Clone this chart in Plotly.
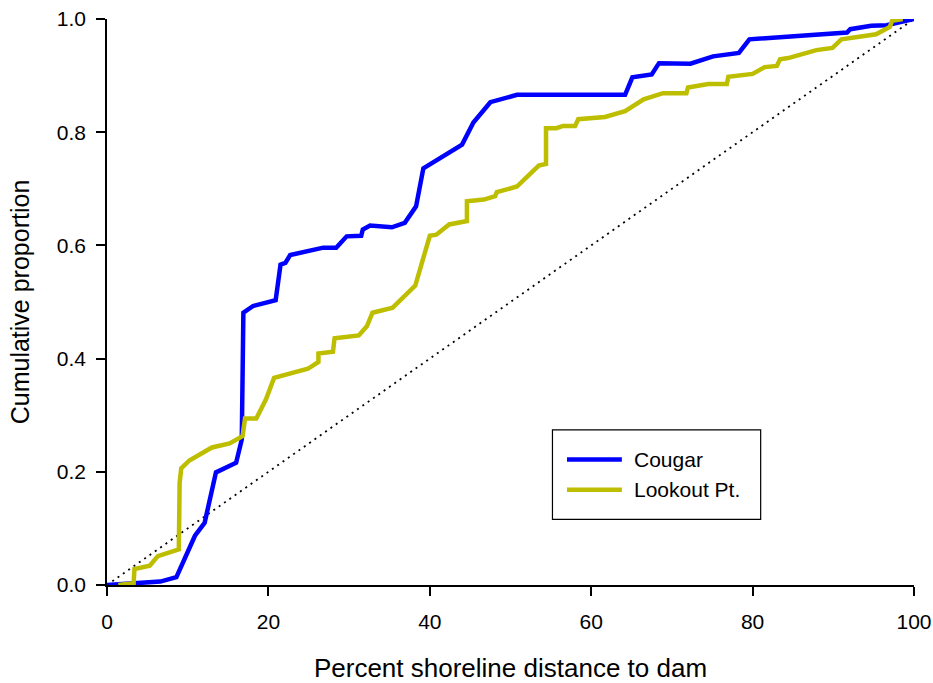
import plotly.graph_objects as go

# Cumulative proportion of sites versus percent shoreline distance to dam
cougar_x = [0, 6.6, 8.6, 10.9, 12.1, 13.5, 16.0, 16.7, 16.9, 18.1, 20.9, 21.2, 21.5,
            22.1, 22.7, 26.8, 28.4, 29.7, 31.5, 31.7, 32.6, 35.3, 36.9, 38.3, 39.2,
            44.0, 45.4, 47.5, 50.8, 64.2, 65.1, 67.5, 68.4, 72.3, 75.1, 78.3, 79.6,
            91.7, 92.1, 94.7, 96.6, 100]
cougar_y = [0, 0.006, 0.014, 0.087, 0.110, 0.199, 0.216, 0.257, 0.481, 0.493, 0.503,
            0.540, 0.566, 0.569, 0.583, 0.596, 0.596, 0.616, 0.617, 0.628, 0.635,
            0.632, 0.640, 0.669, 0.736, 0.778, 0.817, 0.853, 0.866, 0.866, 0.897,
            0.902, 0.922, 0.921, 0.934, 0.940, 0.964, 0.976, 0.982, 0.988, 0.989, 1.0]

lookout_x = [1.4, 3.3, 3.4, 5.3, 6.3, 8.9, 9.0, 9.2, 10.2, 13.0, 15.2, 16.8, 17.1,
             18.5, 19.7, 20.0, 20.7, 24.9, 26.2, 26.2, 28.0, 28.2, 31.2, 32.2, 32.9,
             35.4, 38.2, 40.0, 40.8, 42.4, 44.6, 44.6, 46.7, 48.1, 48.3, 50.8, 53.5,
             54.4, 54.4, 55.7, 56.5, 58.0, 58.4, 61.7, 64.2, 66.5, 68.9, 71.8, 72.0,
             74.5, 76.8, 77.0, 80.0, 81.5, 83.0, 83.4, 84.4, 87.9, 89.9, 91.0, 95.3,
             97.0, 97.3, 98.6]
lookout_y = [0, 0.003, 0.028, 0.034, 0.051, 0.063, 0.181, 0.206, 0.220, 0.243, 0.250,
             0.263, 0.294, 0.294, 0.328, 0.340, 0.366, 0.382, 0.394, 0.409, 0.412,
             0.436, 0.441, 0.457, 0.481, 0.490, 0.529, 0.617, 0.619, 0.637, 0.643,
             0.678, 0.681, 0.687, 0.694, 0.704, 0.741, 0.744, 0.807, 0.807, 0.811,
             0.811, 0.823, 0.827, 0.837, 0.858, 0.869, 0.869, 0.879, 0.885, 0.885,
             0.898, 0.903, 0.915, 0.917, 0.929, 0.931, 0.945, 0.949, 0.964, 0.973,
             0.986, 0.997, 1.0]

# 1:1 reference line (uniform distribution)
ref_x = [0, 100]
ref_y = [0, 1]

x_ticks = [0, 20, 40, 60, 80, 100]
y_ticks = [0.0, 0.2, 0.4, 0.6, 0.8, 1.0]

series_names = ["Cougar", "Lookout Pt."]
series_colors = ["#0000FF", "#BEBE00"]

FONT = "Liberation Sans, Arial, sans-serif"

fig = go.Figure()
fig.add_trace(go.Scatter(x=ref_x, y=ref_y, mode="lines", showlegend=False,
                         line=dict(color="black", width=1.8, dash="2px,4.5px")))
fig.add_trace(go.Scatter(x=cougar_x, y=cougar_y, mode="lines", name=series_names[0],
                         line=dict(color=series_colors[0], width=4.5)))
fig.add_trace(go.Scatter(x=lookout_x, y=lookout_y, mode="lines", name=series_names[1],
                         line=dict(color=series_colors[1], width=4.5)))

# Boxed legend with long line samples
legend_box = dict(x0=55.2, x1=81.0, y0=0.116, y1=0.274)
fig.add_shape(type="rect", xref="x", yref="y", line=dict(color="black", width=1.2),
              fillcolor="white", layer="above", **legend_box)
legend_rows = [0.2216, 0.1685]
for name, color, ly in zip(series_names, series_colors, legend_rows):
    fig.add_shape(type="line", xref="x", yref="y", x0=57.0, x1=63.8, y0=ly, y1=ly,
                  line=dict(color=color, width=4.5), layer="above")
    fig.add_annotation(x=65.0, y=ly, xref="x", yref="y", text=name, showarrow=False,
                       xanchor="left", yanchor="middle",
                       font=dict(family=FONT, size=21, color="black"))

axis_common = dict(showgrid=False, zeroline=False, showline=True, linecolor="black",
                   linewidth=1.5, ticks="outside", ticklen=9, tickwidth=1.5,
                   tickcolor="black", automargin=False,
                   tickfont=dict(family=FONT, size=21, color="black"))

fig.update_layout(
    width=933, height=683,
    margin=dict(l=107, r=19, t=19, b=98),
    paper_bgcolor="white", plot_bgcolor="white",
    showlegend=False,
    font=dict(family=FONT, color="black"),
    xaxis=dict(range=[0, 100], tickvals=x_ticks, ticklabelstandoff=8,
               title=dict(text="Percent shoreline distance to dam", standoff=30,
                          font=dict(family=FONT, size=26, color="black")),
               **axis_common),
    yaxis=dict(range=[0, 1], tickvals=y_ticks, tickformat=".1f", ticklabelstandoff=6,
               title=dict(text="Cumulative proportion", standoff=20,
                          font=dict(family=FONT, size=25, color="black")),
               **axis_common),
)

fig.write_html("out.html")
